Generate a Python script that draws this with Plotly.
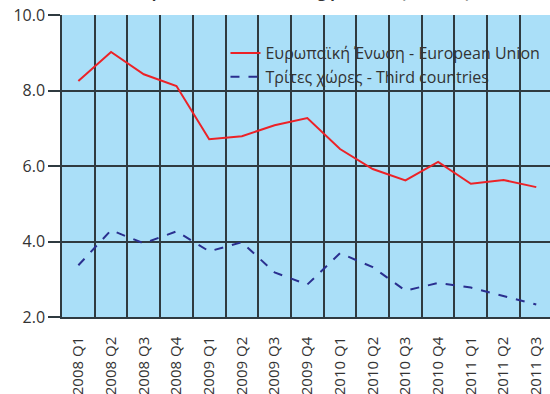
import plotly.graph_objects as go

quarters = ["2008 Q1", "2008 Q2", "2008 Q3", "2008 Q4",
            "2009 Q1", "2009 Q2", "2009 Q3", "2009 Q4",
            "2010 Q1", "2010 Q2", "2010 Q3", "2010 Q4",
            "2011 Q1", "2011 Q2", "2011 Q3"]
eu_values = [8.25, 9.02, 8.43, 8.12, 6.71, 6.79, 7.08, 7.27,
             6.45, 5.92, 5.62, 6.11, 5.53, 5.63, 5.44]
third_values = [3.37, 4.30, 3.95, 4.27, 3.74, 3.98, 3.18, 2.86,
                3.69, 3.32, 2.70, 2.90, 2.78, 2.55, 2.33]
eu_name = "Ευρωπαϊκή Ένωση - European Union"
third_name = "Τρίτες χώρες - Third countries"
title_text = "<b>Imports of manufacturing products (€ billion)</b>"

FONT = "Open Sans, Noto Sans, DejaVu Sans, sans-serif"
TEXT = "#333333"
GRID = "#2f3a40"

fig = go.Figure()
fig.add_trace(go.Scatter(x=quarters, y=eu_values, name=eu_name, mode="lines",
                         line=dict(color="#ec2227", width=2)))
fig.add_trace(go.Scatter(x=quarters, y=third_values, name=third_name, mode="lines",
                         line=dict(color="#2a2f8f", width=2, dash="dash")))

fig.update_layout(
    width=550, height=394,
    margin=dict(l=62, r=0, t=15, b=77, autoexpand=False),
    paper_bgcolor="white",
    plot_bgcolor="#aadff8",
    font=dict(family=FONT, color=TEXT, size=16),
    showlegend=True,
    legend=dict(x=0.335, y=0.93, xanchor="left", yanchor="top",
                bgcolor="rgba(0,0,0,0)", font=dict(size=16, color=TEXT),
                tracegroupgap=0, itemwidth=30),
    annotations=[dict(text=title_text, xref="paper", yref="paper",
                      x=0.49, y=1.037, xanchor="center", yanchor="bottom",
                      showarrow=False, font=dict(size=15, color=TEXT))],
)

fig.update_xaxes(
    type="category", range=[-0.5, 14.42], automargin=False,
    tickson="boundaries", showgrid=True, gridcolor=GRID, gridwidth=1.5,
    showline=True, linecolor=GRID, linewidth=1.5,
    ticks="", tickangle=-90, ticklabelstandoff=12,
    tickfont=dict(size=15, color=TEXT),
)
fig.update_yaxes(
    range=[2, 10], dtick=2, tickformat=".1f", automargin=False,
    showgrid=True, gridcolor=GRID, gridwidth=1.5,
    showline=True, linecolor=GRID, linewidth=1.5,
    ticks="outside", ticklen=12, tickcolor=GRID, tickwidth=1.5,
    tickfont=dict(size=16, color=TEXT),
    zeroline=False,
)

fig.write_html("out.html")
